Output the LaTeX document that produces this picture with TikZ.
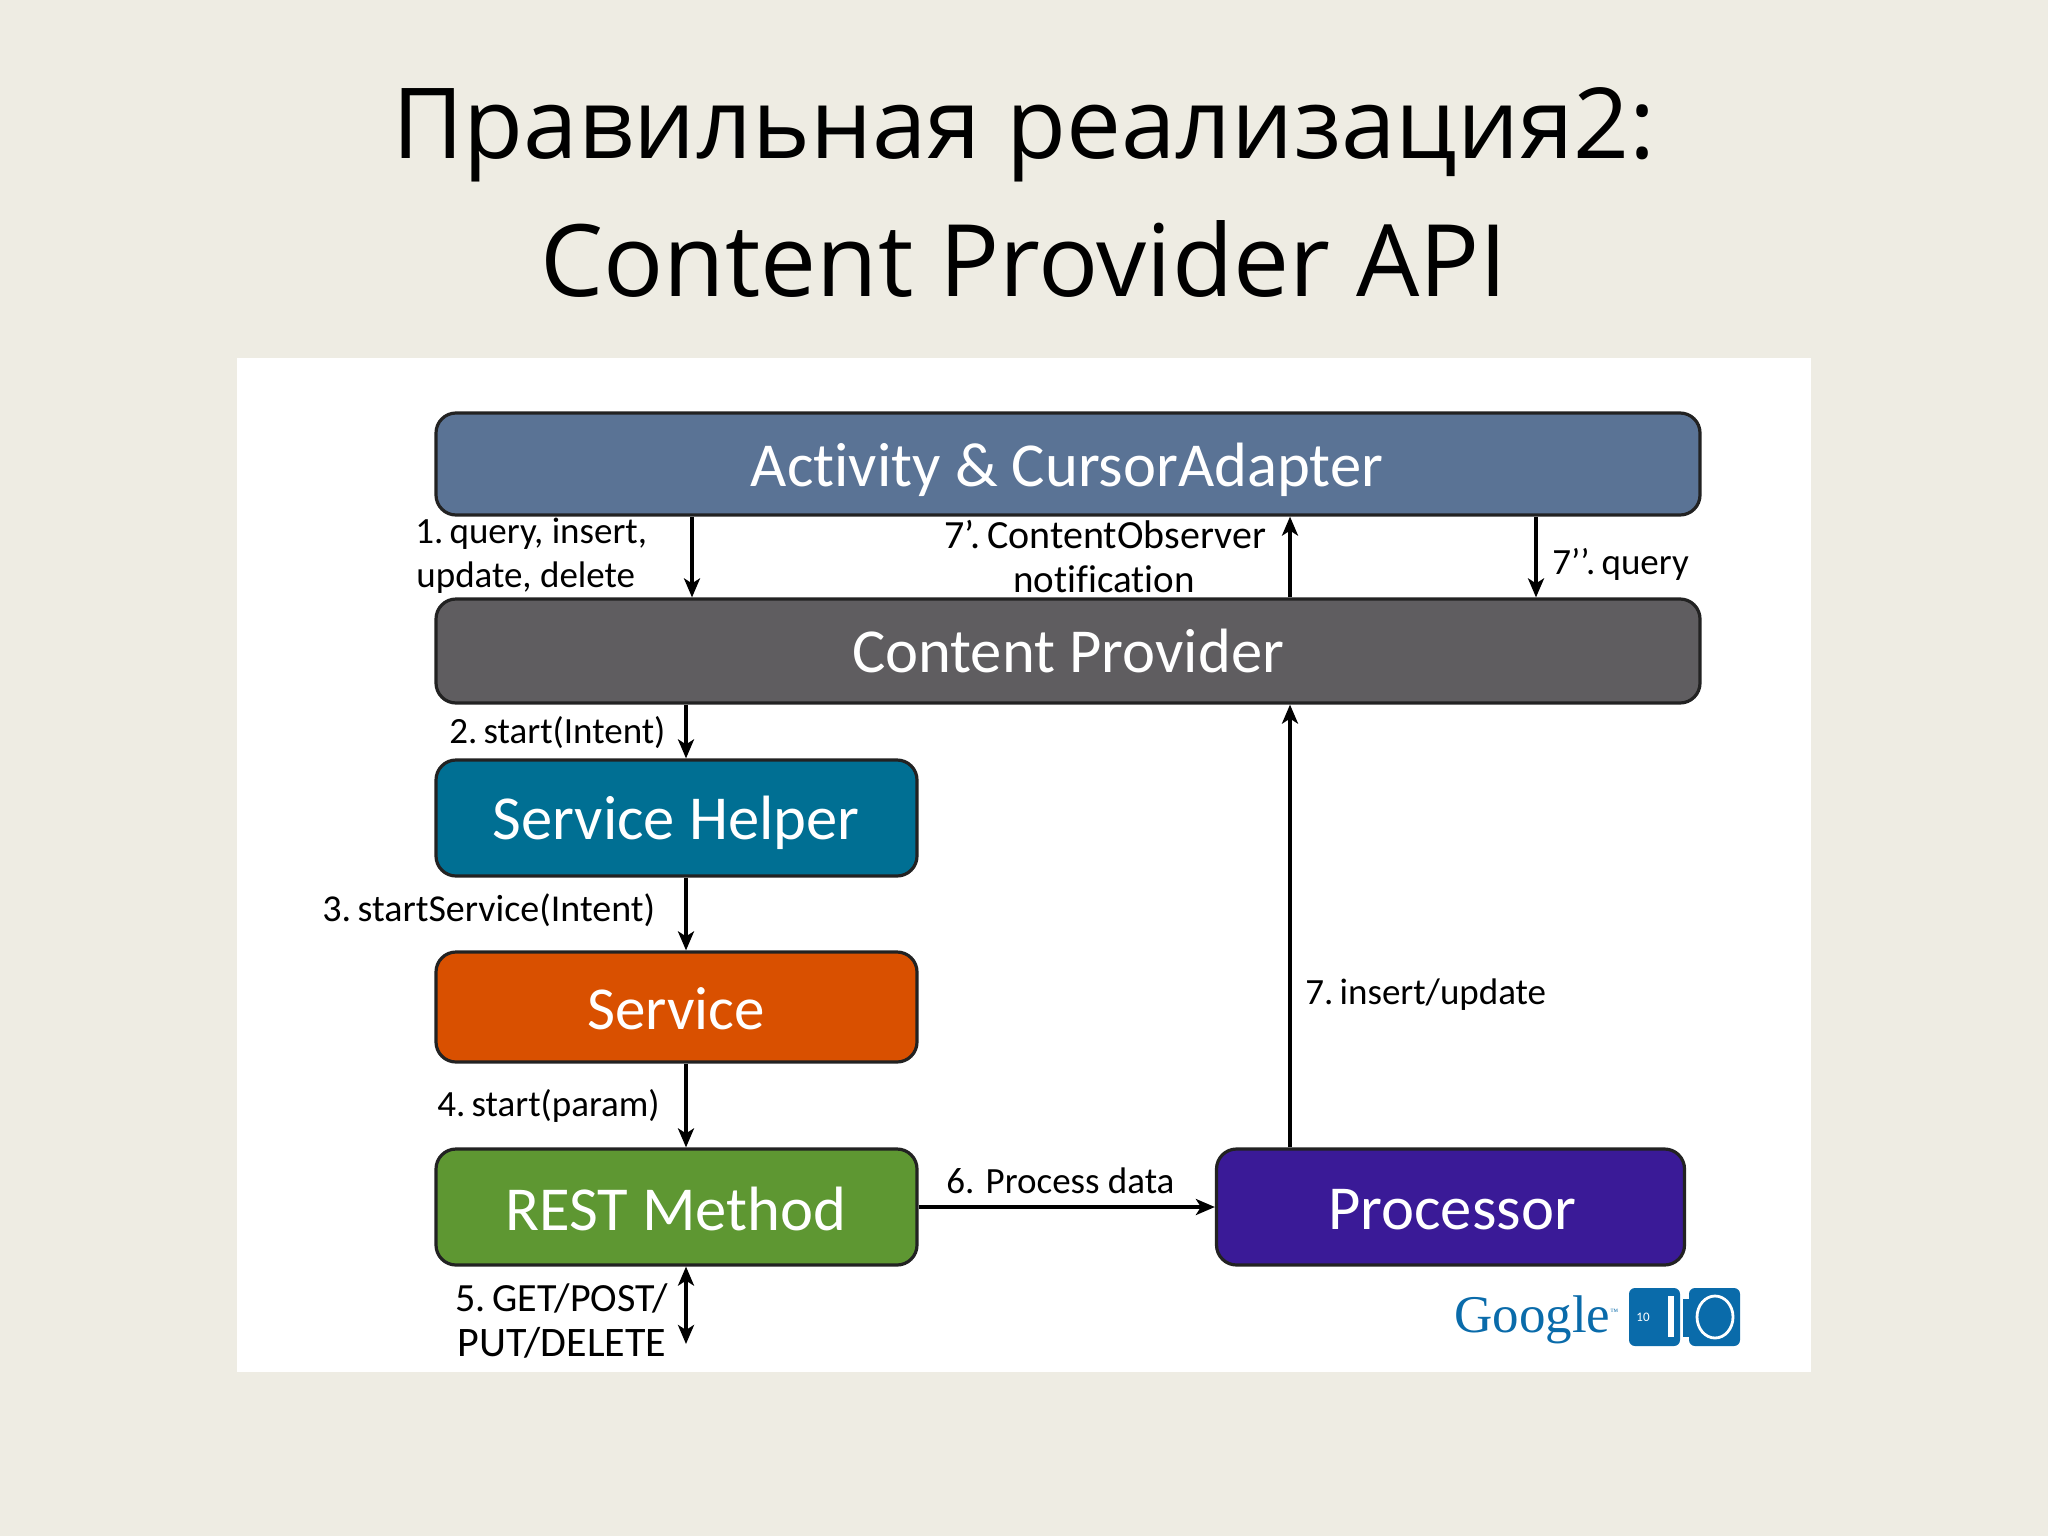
\documentclass[tikz,border=0pt]{standalone}
\usepackage{fontspec}
\setmainfont[Ligatures=NoCommon]{Carlito}
\newfontfamily\titlefont{Open Sans}
\newfontfamily\logofont{Liberation Serif}
\usetikzlibrary{arrows.meta}
\definecolor{bgc}{HTML}{EEECE3}
\definecolor{edgec}{HTML}{222222}
\definecolor{actc}{HTML}{5A7395}
\definecolor{cpc}{HTML}{5F5D60}
\definecolor{shc}{HTML}{006F93}
\definecolor{svc}{HTML}{D95000}
\definecolor{rmc}{HTML}{5E9732}
\definecolor{prc}{HTML}{3A1A97}
\definecolor{logoc}{HTML}{0A6BAA}
\tikzset{
  box/.style={draw=edgec,line width=1.6pt,rounded corners=10pt,inner sep=0pt},
  boxtext/.style={text=white,font=\fontsize{31.3}{31.3}\selectfont,inner sep=0pt},
  flow/.style={-{Stealth[length=9.5pt,width=8pt,inset=2.5pt]},line width=1.7pt,black},
  both/.style={{Stealth[length=9.5pt,width=8pt,inset=2.5pt]}-{Stealth[length=9.5pt,width=8pt,inset=2.5pt]},line width=1.7pt,black},
  lab/.style={font=\fontsize{18.5}{21}\selectfont,inner sep=0pt,text=black},
  labwide/.style={font=\fontsize{20}{21}\selectfont,inner sep=0pt,text=black},
  ttl/.style={font=\titlefont\selectfont,inner sep=0pt,text=black},
}
\begin{document}
\begin{tikzpicture}[x=0.5pt,y=-0.5pt]
\useasboundingbox (0,0) rectangle (2048,1536);
\fill[bgc] (0,0) rectangle (2048,1536);
\fill[white] (237,358) rectangle (1811,1372);
\node[ttl,font=\titlefont\fontsize{49}{49}\selectfont] (t1) at (1024,135) {Правильная реализация2:};
\node[ttl,font=\titlefont\fontsize{50}{50}\selectfont] (t2) at (1024,259) {Content Provider API};
\node[box,fill=actc,minimum width=632pt,minimum height=51pt] (act) at (1068,464) {};
\node[box,fill=cpc,minimum width=632pt,minimum height=52pt] (cp) at (1068,651) {};
\node[box,fill=shc,minimum width=240.5pt,minimum height=58pt] (sh) at (676.5,818) {};
\node[box,fill=svc,minimum width=240.5pt,minimum height=55pt] (sv) at (676.5,1007) {};
\node[box,fill=rmc,minimum width=240.5pt,minimum height=58pt] (rm) at (676.5,1207) {};
\node[box,fill=prc,minimum width=234pt,minimum height=58pt] (pr) at (1450.5,1207) {};
\node[boxtext] (actT) at (1067,470) {Activity \& CursorAdapter};
\node[boxtext] (cpT) at (1068,651) {Content Provider};
\node[boxtext] (shT) at (676,823) {Service Helper};
\node[boxtext,font=\fontsize{30.5}{30.5}\selectfont] (svT) at (676,1009) {Service};
\node[boxtext] (rmT) at (676,1209) {REST Method};
\node[boxtext] (prT) at (1452,1210) {Processor};
\coordinate (xa) at (692,0);
\coordinate (xb) at (1290,0);
\coordinate (xc) at (1536,0);
\coordinate (xd) at (686,0);
\coordinate (free) at (686,1344);
\draw[flow] (act.south -| xa) -- (cp.north -| xa);
\draw[flow] (cp.north -| xb) -- (act.south -| xb);
\draw[flow] (act.south -| xc) -- (cp.north -| xc);
\draw[flow] (cp.south -| xd) -- (sh.north -| xd);
\draw[flow] (sh.south -| xd) -- (sv.north -| xd);
\draw[flow] (sv.south -| xd) -- (rm.north -| xd);
\draw[both] (rm.south -| xd) -- (free);
\draw[flow] (rm.east) -- (pr.west);
\draw[flow] (pr.north -| xb) -- (cp.south -| xb);
\node[lab,anchor=west] (l1a) at (415,534) {1.\,query, insert,};
\node[lab,anchor=west] (l1b) at (416,578) {update, delete};
\node[labwide] (l7a) at (1105,535) {7’.\,ContentObserver};
\node[lab,font=\fontsize{19.5}{21}\selectfont] (l7b) at (1104,579) {notification};
\node[lab,anchor=west] (l7c) at (1552,564) {7’’.\,query};
\node[lab,anchor=west] (l2) at (449,733) {2.\,start(Intent)};
\node[lab,anchor=west,font=\fontsize{19}{21}\selectfont] (l3) at (322,910) {3.\,startService(Intent)};
\node[lab,anchor=west] (l4) at (437,1106) {4.\,start(param)};
\node[lab,anchor=west] (l6) at (946,1181) {6. Process data};
\node[lab,anchor=west] (l7d) at (1305,995) {7.\,insert/update};
\node[labwide] (l5a) at (562,1298) {5.\,GET/POST/};
\node[labwide,font=\fontsize{21}{21}\selectfont] (l5b) at (562,1343) {PUT/DELETE};
\node[font=\logofont\fontsize{26.5}{27}\selectfont,text=logoc,inner sep=0pt,anchor=west] (g) at (1454,1320) {Google\raisebox{9pt}{\fontsize{4}{4}\selectfont ™}};
\fill[logoc,rounded corners=3pt] (1629,1288) rectangle (1680,1346);
\fill[logoc,rounded corners=3pt] (1689,1288) rectangle (1740,1346);
\fill[logoc] (1683,1299) rectangle (1692,1337);
\fill[white] (1668,1296) rectangle (1674,1337);
\draw[white,line width=1.4pt] (1715,1317) ellipse (18 and 21);
\node[font=\fontsize{6.5}{6.5}\selectfont,text=white,inner sep=0pt] (ten) at (1643,1317) {10};
\end{tikzpicture}
\end{document}
